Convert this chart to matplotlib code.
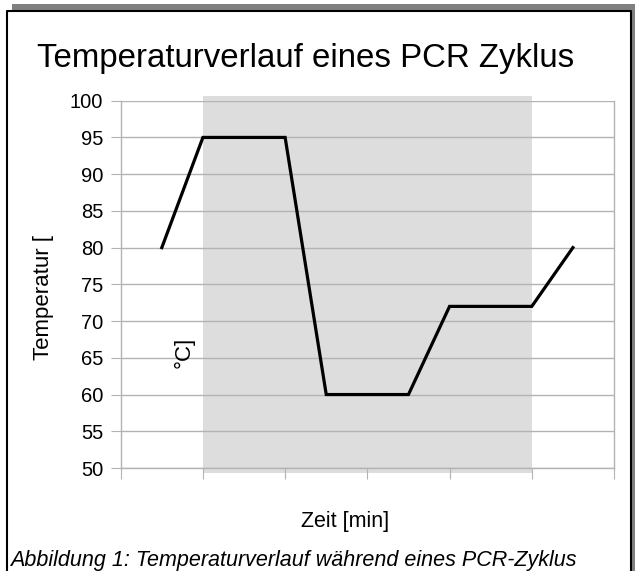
import matplotlib
matplotlib.use("Agg")
import matplotlib.pyplot as plt
from matplotlib.patches import Rectangle

plt.rcParams['font.family'] = ['Liberation Sans', 'DejaVu Sans']

# PCR cycle: time (min) and temperature (degC)
zeit = [0.5, 1, 2, 2.5, 3.5, 4, 5, 5.5]
temperatur = [80, 95, 95, 60, 60, 72, 72, 80]
x_ticks = [0, 1, 2, 3, 4, 5, 6]
y_ticks = [50, 55, 60, 65, 70, 75, 80, 85, 90, 95, 100]
zyklus_start, zyklus_ende = 1, 5

W, H = 635, 571
fig = plt.figure(figsize=(W / 100, H / 100), dpi=100)

# outer frame with gray shadow
fig.patches.append(Rectangle((12 / W, 1 - 10 / H), 1 - 12 / W, 6 / H, transform=fig.transFigure,
                             color='#808080', lw=0))
fig.patches.append(Rectangle((631 / W, 0), 4 / W, 1 - 4 / H, transform=fig.transFigure,
                             color='#808080', lw=0))
fig.lines.append(plt.Line2D([6.5 / W, 6.5 / W, 630.5 / W, 630.5 / W], [0, 1 - 10.5 / H, 1 - 10.5 / H, 0],
                            transform=fig.transFigure, color='black', lw=1.5))

ax = fig.add_axes([120.7 / W, 103 / H, (614 - 120.7) / W, (468 - 100.7) / H])

# gray shading of the cycle
ax.add_patch(Rectangle((zyklus_start, 49.3), zyklus_ende - zyklus_start, 51.4,
                       color='#dddddd', lw=0, zorder=0, clip_on=False))

ax.plot(zeit, temperatur, color='black', lw=2.3, zorder=3, solid_joinstyle='miter')

ax.set_xlim(0, 6)
ax.set_ylim(50, 100)
ax.set_xticks(x_ticks)
ax.set_xticklabels([])
ax.set_yticks(y_ticks)
ax.tick_params(axis='x', length=8, color='#b3b3b3', direction='out')
ax.tick_params(axis='y', length=7.5, color='#b3b3b3', direction='out', labelsize=14.5, pad=5)
ax.set_facecolor('none')
ax.grid(axis='y', color='#b3b3b3', lw=1)
ax.set_axisbelow(True)
for s in ['left', 'right', 'bottom']:
    ax.spines[s].set_color('#b3b3b3')
    ax.spines[s].set_linewidth(1)
ax.spines['top'].set_visible(False)

fig.text(306 / W, 1 - 58 / H, 'Temperaturverlauf eines PCR Zyklus', fontsize=23.8,
         ha='center', va='center')
fig.text(345 / W, 1 - 526.7 / H, 'Zeit [min]', fontsize=15.5, ha='center', va='baseline')
fig.text(44 / W, 1 - 297 / H, 'Temperatur [', fontsize=16, rotation=90, ha='center', va='center')
fig.text(184 / W, 1 - 352 / H, '°C]', fontsize=16, rotation=90, ha='center', va='center')
fig.text(10 / W, 1 - 566 / H, 'Abbildung 1: Temperaturverlauf während eines PCR-Zyklus',
         fontsize=15.5, style='italic', ha='left', va='baseline')

fig.savefig('out.png', dpi=100)
